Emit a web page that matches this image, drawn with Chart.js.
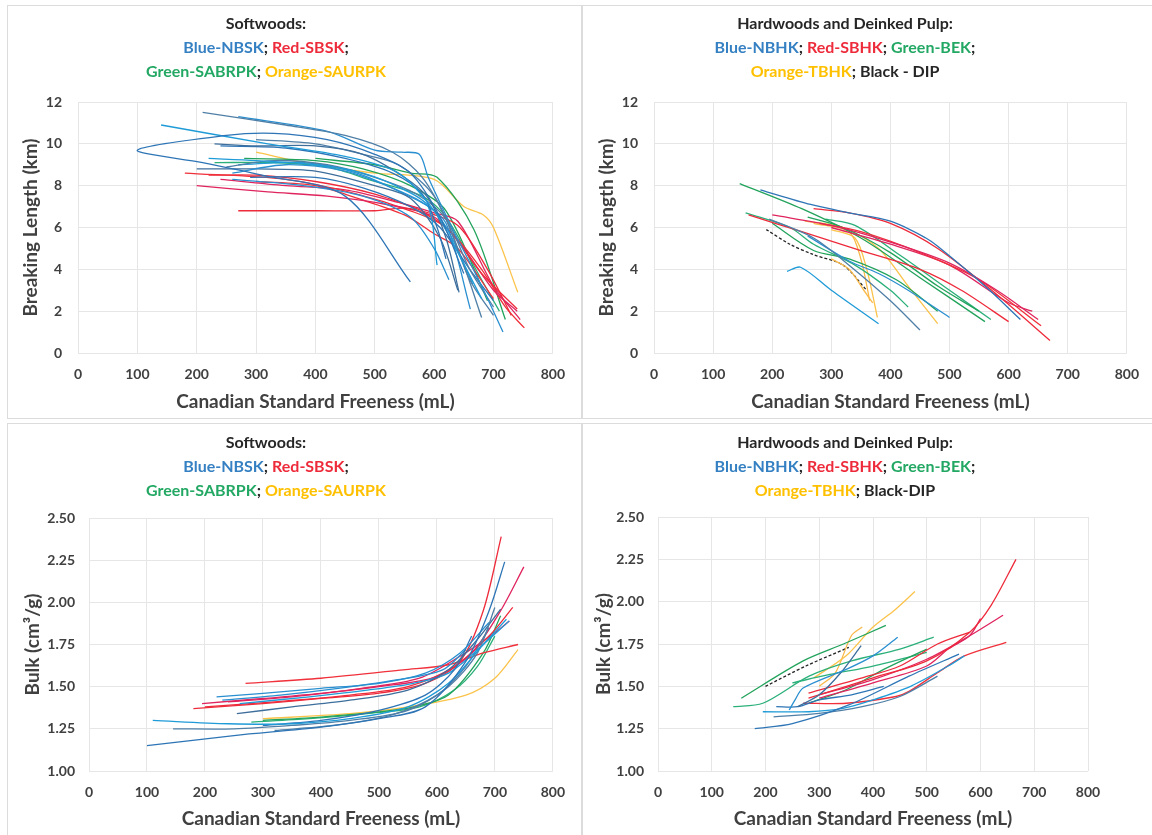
<!DOCTYPE html>
<html>
<head>
<meta charset="utf-8">
<script src="https://cdn.jsdelivr.net/npm/chart.js@4.4.0/dist/chart.umd.min.js"></script>
<style>
body{margin:0;background:#fff;width:1152px;height:835px;position:relative;overflow:hidden;font-family:Lato,"Open Sans",sans-serif}
.box{position:absolute;border:1px solid #dcdcdc}
.wrap{position:absolute}
.ttl{position:absolute;width:440px;text-align:center;font-weight:bold;font-size:16px;line-height:24px;color:#262626;white-space:nowrap}
.b{color:#3580c2}.r{color:#ee2b3b}.g{color:#23a864}.o{color:#ffc000}
</style>
</head>
<body>
<div class="box" style="left:7px;top:5px;width:574px;height:412px"></div>
<div class="box" style="left:581px;top:5px;width:572px;height:412px"></div>
<div class="box" style="left:7px;top:423px;width:574px;height:420px"></div>
<div class="box" style="left:581px;top:423px;width:572px;height:420px"></div>

<div class="wrap" style="left:0;top:0"><canvas id="tl" width="578" height="418"></canvas></div>
<div class="wrap" style="left:578px;top:0"><canvas id="tr" width="574" height="418"></canvas></div>
<div class="wrap" style="left:0;top:418px"><canvas id="bl" width="578" height="417"></canvas></div>
<div class="wrap" style="left:578px;top:418px"><canvas id="br" width="574" height="417"></canvas></div>

<div class="ttl" style="left:46px;top:11px">Softwoods:<br><span class="b">Blue-NBSK</span>; <span class="r">Red-SBSK</span>;<br><span class="g">Green-SABRPK</span>; <span class="o">Orange-SAURPK</span></div>
<div class="ttl" style="left:625px;top:11px">Hardwoods and Deinked Pulp:<br><span class="b">Blue-NBHK</span>; <span class="r">Red-SBHK</span>; <span class="g">Green-BEK</span>;<br><span class="o">Orange-TBHK</span>; Black - DIP</div>
<div class="ttl" style="left:46px;top:430px">Softwoods:<br><span class="b">Blue-NBSK</span>; <span class="r">Red-SBSK</span>;<br><span class="g">Green-SABRPK</span>; <span class="o">Orange-SAURPK</span></div>
<div class="ttl" style="left:625px;top:430px">Hardwoods and Deinked Pulp:<br><span class="b">Blue-NBHK</span>; <span class="r">Red-SBHK</span>; <span class="g">Green-BEK</span>;<br><span class="o">Orange-TBHK</span>; Black-DIP</div>

<script>
// axis ranges
const freenessRange = [0, 800]
const breakRange = [0, 12]
const bulkRange = [1.0, 2.5]

// softwoods - breaking length (km) vs CSF (mL)
const swBreakBlue = [
  [[560,3.4],[450,7.5],[310,8.5],[210,9.1],[100,9.7],[250,10.4],[330,10.5],[420,10.2],[500,9.5],[560,8.6],[610,6.5],[650,3.8]],
  [[140,10.9],[320,10.0],[450,9.4],[540,8.6],[600,6.8],[640,4.8],[680,2.6]],
  [[210,11.5],[350,10.9],[450,10.4],[530,9.6],[580,8.4],[620,6.4],[660,3.5],[700,1.8]],
  [[270,11.3],[420,10.6],[500,9.7],[545,9.6],[575,9.5],[590,8.4],[630,6.0],[680,3.2],[716,1.0]],
  [[230,10.0],[300,9.9],[400,9.9],[480,9.5],[550,8.4],[590,7.4],[620,5.5],[642,2.9]],
  [[240,9.9],[350,9.8],[450,9.3],[530,8.6],[580,7.6],[605,6.0],[620,4.5]],
  [[220,9.3],[300,9.2],[400,9.0],[480,8.6],[550,7.8],[590,7.0],[605,4.2]],
  [[250,8.9],[330,9.2],[420,9.0],[500,8.4],[570,7.6],[620,6.4],[660,4.0],[700,2.2]],
  [[260,8.6],[350,9.0],[450,8.7],[520,8.0],[580,7.2],[620,6.2],[661,2.1]],
  [[200,8.8],[300,8.8],[400,8.7],[500,8.0],[560,7.4],[610,5.5],[640,3.0]],
  [[290,8.4],[400,8.4],[480,7.9],[560,7.0],[610,6.0],[660,4.0],[700,2.5]],
  [[270,9.0],[380,9.1],[470,8.6],[550,7.6],[600,6.8],[630,5.5],[665,3.3]],
  [[300,10.2],[400,10.0],[480,9.5],[540,9.0],[600,7.5],[640,5.0],[680,1.7]],
  [[260,8.3],[380,8.0],[480,7.5],[560,6.5],[600,5.0],[625,3.5]]
]
const swBreakRed = [
  [[270,6.8],[400,6.8],[500,6.8],[560,6.9],[620,6.0],[680,3.8],[740,2.1]],
  [[200,8.0],[320,7.7],[420,7.5],[520,7.1],[600,6.5],[650,5.0],[700,3.0],[740,2.0]],
  [[180,8.6],[350,8.3],[470,7.6],[560,6.8],[620,6.0],[680,4.0],[720,2.2],[752,1.2]],
  [[220,8.5],[300,8.5],[400,8.2],[500,7.6],[580,6.8],[640,6.1],[690,4.0],[730,1.8]],
  [[240,8.3],[350,8.0],[450,7.8],[540,7.2],[600,6.7],[640,6.3],[700,3.2],[745,1.6]],
  [[300,8.2],[400,8.0],[470,7.4],[550,6.6],[600,5.7],[640,5.0],[700,2.6]]
]
const swBreakGreen = [
  [[400,9.3],[500,9.0],[560,8.6],[605,8.4],[667,5.9],[720,1.6]],
  [[230,9.1],[330,9.1],[420,8.9],[500,8.2],[580,7.5],[620,6.5],[680,3.5],[710,2.0]],
  [[280,9.3],[400,9.2],[480,8.8],[560,8.0],[620,6.8],[690,2.5]]
]
const swBreakOrange = [
  [[300,9.6],[400,9.0],[500,8.6],[600,8.3],[650,7.0],[683,6.6],[700,6.0],[741,2.9]]
]

// hardwoods and DIP - breaking length
const hwBreakBlue = [
  [[180,7.8],[265,7.1],[330,6.7],[400,6.3],[460,5.5],[480,5.1],[560,3.2],[620,1.6]],
  [[225,3.9],[248,4.1],[300,3.0],[380,1.4]],
  [[195,6.4],[270,5.5],[330,4.2],[400,2.5],[450,1.1]],
  [[260,5.6],[330,4.4],[380,3.8],[430,3.0],[500,1.7]]
]
const hwBreakRed = [
  [[160,6.6],[250,5.8],[350,4.9],[450,4.0],[520,3.0],[600,1.5]],
  [[200,6.6],[300,6.1],[400,5.3],[500,4.3],[580,3.0],[650,1.6]],
  [[280,6.2],[350,5.8],[450,4.8],[550,3.5],[655,1.3]],
  [[270,6.9],[330,6.7],[400,6.2],[480,5.0],[580,2.8],[670,0.6]],
  [[300,6.0],[400,5.2],[500,4.2],[600,2.4],[640,2.0]]
]
const hwBreakGreen = [
  [[145,8.1],[250,6.9],[350,5.5],[450,3.6],[560,1.5]],
  [[155,6.7],[230,6.0],[270,5.2],[340,4.2],[400,3.0],[430,2.2]],
  [[260,6.5],[320,6.0],[400,4.8],[480,3.2],[550,2.0]],
  [[290,6.4],[340,6.1],[420,4.6],[500,3.0],[570,1.6]],
  [[200,6.2],[270,4.9],[330,4.5],[410,3.5],[480,2.0]]
]
const hwBreakOrange = [
  [[255,6.3],[320,6.0],[380,5.0],[430,3.2],[480,1.4]],
  [[270,6.2],[330,5.8],[350,4.5],[365,2.5]],
  [[300,5.9],[340,5.5],[360,4.0],[378,1.7]],
  [[300,4.5],[330,4.0],[355,3.0],[370,2.4]]
]
const hwBreakBlack = [
  [[190,5.9],[230,5.2],[270,4.7],[320,4.2],[360,3.0]]
]

// softwoods - bulk (cm3/g)
const swBulkBlue = [
  [[100,1.15],[250,1.21],[400,1.26],[500,1.31],[580,1.38],[650,1.65],[690,1.95],[717,2.24]],
  [[110,1.30],[240,1.28],[350,1.28],[450,1.31],[550,1.38],[620,1.52],[680,1.75],[720,1.90]],
  [[145,1.25],[250,1.25],[350,1.27],[450,1.30],[550,1.36],[620,1.50],[670,1.70],[700,1.97]],
  [[220,1.44],[300,1.46],[400,1.49],[500,1.52],[580,1.58],[640,1.70],[690,1.88]],
  [[255,1.34],[350,1.38],[450,1.42],[550,1.48],[620,1.60],[670,1.78],[710,1.96]],
  [[300,1.27],[400,1.30],[500,1.36],[580,1.45],[630,1.60],[660,1.80]],
  [[260,1.40],[380,1.44],[480,1.48],[560,1.52],[620,1.58],[680,1.75],[725,1.89]],
  [[320,1.24],[420,1.27],[520,1.33],[600,1.45],[650,1.62],[690,1.85]],
  [[230,1.42],[330,1.45],[430,1.49],[530,1.54],[610,1.60],[650,1.72]]
]
const swBulkRed = [
  [[180,1.37],[300,1.40],[400,1.43],[497,1.46],[580,1.52],[640,1.65],[680,1.95],[711,2.39]],
  [[195,1.40],[300,1.43],[400,1.46],[500,1.50],[600,1.56],[660,1.70],[710,1.95],[750,2.21]],
  [[270,1.52],[400,1.55],[542,1.60],[620,1.63],[680,1.70],[740,1.75]],
  [[200,1.38],[320,1.41],[450,1.45],[550,1.50],[630,1.62],[690,1.80],[731,1.97]],
  [[240,1.41],[350,1.44],[470,1.49],[570,1.55],[640,1.68],[700,1.82],[725,1.89]]
]
const swBulkGreen = [
  [[300,1.30],[400,1.32],[500,1.35],[560,1.38],[620,1.45],[680,1.70],[710,1.92]],
  [[280,1.29],[380,1.31],[480,1.34],[570,1.38],[630,1.48],[670,1.62],[700,1.80]]
]
const swBulkOrange = [
  [[300,1.31],[450,1.34],[550,1.38],[650,1.45],[700,1.55],[740,1.72]]
]

// hardwoods and DIP - bulk
const hwBulkBlue = [
  [[180,1.25],[250,1.28],[355,1.39],[467,1.56],[560,1.69]],
  [[195,1.35],[280,1.35],[344,1.37],[400,1.42],[470,1.50],[540,1.62],[570,1.68]],
  [[215,1.32],[300,1.34],[380,1.38],[450,1.44],[520,1.56]],
  [[244,1.36],[255,1.42],[270,1.49],[350,1.60],[400,1.68],[446,1.79]],
  [[260,1.38],[300,1.45],[340,1.58],[378,1.74]],
  [[220,1.38],[260,1.38],[300,1.42],[360,1.45],[420,1.50]]
]
const hwBulkRed = [
  [[280,1.43],[400,1.55],[500,1.65],[580,1.82],[620,1.98],[666,2.25]],
  [[300,1.45],[400,1.54],[500,1.66],[570,1.78],[642,1.92]],
  [[270,1.40],[350,1.40],[443,1.44],[467,1.47],[520,1.58],[570,1.68],[648,1.76]],
  [[280,1.46],[380,1.55],[450,1.62],[520,1.75],[580,1.82]],
  [[300,1.43],[400,1.52],[500,1.62],[540,1.72],[580,1.80],[600,1.90]]
]
const hwBulkGreen = [
  [[155,1.43],[270,1.65],[345,1.75],[424,1.86]],
  [[140,1.38],[195,1.40],[281,1.56],[360,1.65],[450,1.72],[513,1.79]],
  [[280,1.40],[350,1.48],[420,1.60],[500,1.72]],
  [[250,1.52],[320,1.57],[400,1.62],[500,1.70]]
]
const hwBulkOrange = [
  [[290,1.55],[350,1.68],[400,1.85],[440,1.95],[478,2.06]],
  [[300,1.50],[330,1.58],[360,1.80],[380,1.85]]
]
const hwBulkBlack = [
  [[200,1.50],[275,1.62],[355,1.73]]
]

const blues = ['#2e75b6', '#1f9bd8', '#4f7fa6', '#2a8fd0', '#3d6e9c']
const reds = ['#ee2b3b', '#e0245e', '#f0303a']
const greens = ['#22a35c', '#2bb07a']
const oranges = ['#fbc34a', '#f9b94a']
const blacks = ['#222222']

const tickFont = { family: 'Lato', size: 14, weight: 'bold' }
const titleFont = { family: 'Lato', size: 19, weight: 'bold' }

function toSets(groups) {
  let out = []
  groups.forEach(([lines, cols, dash]) => {
    lines.forEach((pts, i) => {
      out.push({
        data: pts,
        borderColor: cols[i % cols.length],
        borderWidth: 1.3,
        borderDash: dash || [],
        pointRadius: 0,
        tension: 0.3,
        fill: false
      })
    })
  })
  return out
}

function makeChart(id, groups, yr, yStep, yTitle, area, yTitlePad, yTickPad, fmt) {
  const cv = document.getElementById(id)
  const w = cv.width, h = cv.height
  return new Chart(cv, {
    type: 'line',
    data: { datasets: toSets(groups) },
    options: {
      responsive: false,
      animation: false,
      layout: { padding: { left: 0, right: w - area.right, top: area.top, bottom: 5 } },
      plugins: { legend: { display: false }, tooltip: { enabled: false } },
      scales: {
        x: {
          type: 'linear', min: freenessRange[0], max: freenessRange[1],
          ticks: { stepSize: 100, padding: 13, color: '#404040', font: tickFont },
          grid: { color: '#e6e6e6', drawTicks: false },
          border: { display: false },
          title: { display: true, text: 'Canadian Standard Freeness (mL)', color: '#404040', font: titleFont, padding: { top: 0, bottom: 0 } },
          afterFit: s => { s.height = h - 5 - area.bottom }
        },
        y: {
          min: yr[0], max: yr[1],
          ticks: { stepSize: yStep, padding: yTickPad, color: '#404040', font: tickFont, callback: fmt },
          grid: { color: '#e6e6e6', drawTicks: false },
          border: { display: false },
          title: { display: true, text: yTitle, color: '#404040', font: titleFont, padding: { top: yTitlePad, bottom: 0 } },
          afterFit: s => { s.width = area.left }
        }
      }
    }
  })
}

const intFmt = v => v
const decFmt = v => Number(v).toFixed(2)

makeChart('tl', [[swBreakBlue, blues], [swBreakRed, reds], [swBreakGreen, greens], [swBreakOrange, oranges]],
  breakRange, 2, 'Breaking Length (km)', { left: 78, right: 560, top: 102, bottom: 353 }, 19, 16, intFmt)
makeChart('tr', [[hwBreakBlue, blues], [hwBreakRed, reds], [hwBreakGreen, greens], [hwBreakOrange, oranges], [hwBreakBlack, blacks, [3, 2]]],
  breakRange, 2, 'Breaking Length (km)', { left: 76, right: 557, top: 102, bottom: 353 }, 17, 16, intFmt)
makeChart('bl', [[swBulkBlue, blues], [swBulkRed, reds], [swBulkGreen, greens], [swBulkOrange, oranges]],
  bulkRange, 0.25, 'Bulk (cm\u00b3/g)', { left: 89, right: 563, top: 100, bottom: 353 }, 21, 14, decFmt)
makeChart('br', [[hwBulkBlue, blues], [hwBulkRed, reds], [hwBulkGreen, greens], [hwBulkOrange, oranges], [hwBulkBlack, blacks, [3, 2]]],
  bulkRange, 0.25, 'Bulk (cm\u00b3/g)', { left: 80, right: 510, top: 99, bottom: 353 }, 14, 14, decFmt)
</script>
</body>
</html>
